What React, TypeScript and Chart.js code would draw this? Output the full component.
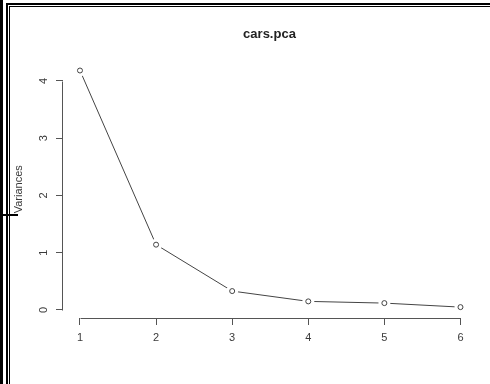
import React, { useEffect, useRef } from "react";
import { Chart, registerables } from "chart.js";

Chart.register(...registerables);

const components = [1, 2, 3, 4, 5, 6];
const variances = [4.18, 1.14, 0.33, 0.15, 0.12, 0.05];
const xTicks = [1, 2, 3, 4, 5, 6];
const yTicks = [0, 1, 2, 3, 4];
const chartTitle = "cars.pca";
const yLabel = "Variances";

const FONT = "'Liberation Sans', Arial, Helvetica, sans-serif";
const INK = "#3a3a3a";
const LINE = "#444444";
const AXIS = "#555555";

const points = components.map((c, i) => ({ x: c, y: variances[i] }));

const rAxisLines = {
  id: "rAxisLines",
  afterDraw(chart: any) {
    const { ctx, scales } = chart;
    const xs = scales.x;
    const ys = scales.y;
    ctx.save();
    ctx.strokeStyle = AXIS;
    ctx.lineWidth = 1;
    ctx.beginPath();
    const yx = Math.round(ys.right) - 0.5;
    ctx.moveTo(yx, Math.round(ys.getPixelForValue(yTicks[0])) + 0.5);
    ctx.lineTo(yx, Math.round(ys.getPixelForValue(yTicks[yTicks.length - 1])) + 0.5);
    const xy = Math.round(xs.top) + 0.5;
    ctx.moveTo(Math.round(xs.getPixelForValue(xTicks[0])) + 0.5, xy);
    ctx.lineTo(Math.round(xs.getPixelForValue(xTicks[xTicks.length - 1])) + 0.5, xy);
    ctx.stroke();
    ctx.restore();
  },
};

export default function App() {
  const ref = useRef<HTMLCanvasElement | null>(null);

  useEffect(() => {
    if (!ref.current) return;
    const chart = new Chart(ref.current, {
      type: "line",
      data: {
        datasets: [
          {
            data: points,
            showLine: false,
            pointRadius: 2.5,
            pointBorderWidth: 1,
            pointBorderColor: LINE,
            pointBackgroundColor: "#ffffff",
            order: 0,
          },
          {
            data: points,
            showLine: false,
            pointRadius: 6,
            pointBorderWidth: 0,
            pointBorderColor: "#ffffff",
            pointBackgroundColor: "#ffffff",
            order: 1,
          },
          {
            data: points,
            borderColor: LINE,
            borderWidth: 1,
            pointRadius: 0,
            fill: false,
            tension: 0,
            order: 2,
          },
        ],
      },
      options: {
        responsive: false,
        animation: false,
        devicePixelRatio: 1,
        layout: { padding: { left: 8, right: 14, top: 0, bottom: 0 } },
        plugins: {
          legend: { display: false },
          tooltip: { enabled: false },
          title: {
            display: true,
            fullSize: false,
            text: chartTitle,
            color: "#222222",
            font: { family: FONT, size: 13, weight: "bold", lineHeight: 1.2 },
            padding: { top: 27, bottom: 18 },
          },
        },
        scales: {
          x: {
            type: "linear",
            min: 0.777,
            max: 6.204,
            afterBuildTicks: (s: any) => {
              s.ticks = xTicks.map((v) => ({ value: v }));
            },
            afterFit: (s: any) => {
              s.height = 66;
            },
            grid: { drawOnChartArea: false, drawTicks: true, tickLength: 7, color: AXIS },
            border: { display: false },
            ticks: {
              padding: 6,
              color: INK,
              autoSkip: false,
              maxRotation: 0,
              font: { family: FONT, size: 11 },
              callback: (v: any) => String(v),
            },
          },
          y: {
            type: "linear",
            min: -0.14,
            max: 4.353,
            afterBuildTicks: (s: any) => {
              s.ticks = yTicks.map((v) => ({ value: v }));
            },
            afterFit: (s: any) => {
              s.width = 55;
            },
            grid: { drawOnChartArea: false, drawTicks: true, tickLength: 7, color: AXIS },
            border: { display: false },
            ticks: {
              padding: 9,
              color: INK,
              autoSkip: false,
              minRotation: 90,
              maxRotation: 90,
              crossAlign: "center",
              font: { family: FONT, size: 11 },
              callback: (v: any) => String(v),
            },
            title: {
              display: true,
              text: yLabel,
              color: INK,
              font: { family: FONT, size: 11 },
              padding: { top: 4, bottom: 0 },
            },
          },
        },
      } as any,
      plugins: [rAxisLines],
    });
    return () => chart.destroy();
  }, []);

  const blk = "#000000";
  return (
    <div
      style={{
        position: "fixed",
        left: 0,
        top: 0,
        width: 490,
        height: 384,
        background: "#ffffff",
        overflow: "hidden",
      }}
    >
      <canvas
        ref={ref}
        width={490}
        height={384}
        style={{ position: "absolute", left: 0, top: 0, width: 490, height: 384 }}
      />
      <div style={{ position: "absolute", left: 0, top: 0, width: 3, height: 384, background: blk }} />
      <div style={{ position: "absolute", left: 6, top: 3, width: 2, height: 381, background: blk }} />
      <div style={{ position: "absolute", left: 6, top: 3, width: 484, height: 2, background: blk }} />
      <div style={{ position: "absolute", left: 9, top: 6, width: 1, height: 378, background: blk }} />
      <div style={{ position: "absolute", left: 9, top: 6, width: 481, height: 1, background: blk }} />
      <div style={{ position: "absolute", left: 0, top: 214, width: 18, height: 2, background: blk }} />
    </div>
  );
}
